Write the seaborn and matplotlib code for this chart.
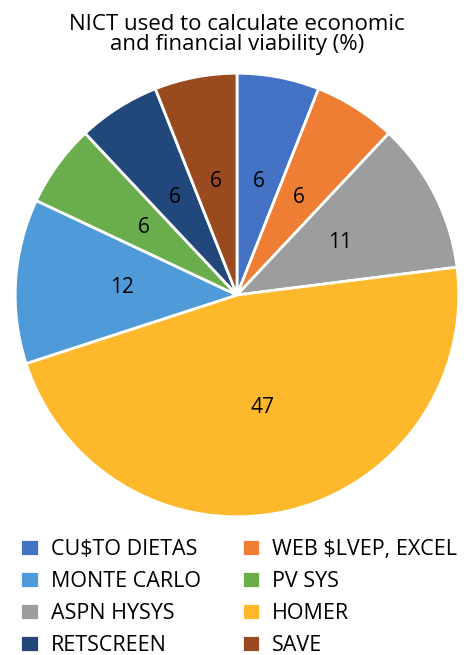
import matplotlib
matplotlib.use("Agg")
import matplotlib.pyplot as plt
import seaborn as sns

tools = ["CU$TO DIETAS", "WEB $LVEP, EXCEL", "ASPN HYSYS", "HOMER",
         "MONTE CARLO", "PV SYS", "RETSCREEN", "SAVE"]
share = [6, 6, 11, 47, 12, 6, 6, 6]
colors = ["#4472C4", "#EE7E33", "#9B9D9E", "#FDB92B",
          "#4F9BD9", "#6AAD4C", "#22477A", "#9A4A1F"]
legend_order = ["CU$TO DIETAS", "MONTE CARLO", "ASPN HYSYS", "RETSCREEN",
                "WEB $LVEP, EXCEL", "PV SYS", "HOMER", "SAVE"]

sns.set_theme(style="white")
plt.rcParams['font.family'] = ['Open Sans', 'DejaVu Sans']
plt.rcParams['text.color'] = 'black'

fig = plt.figure(figsize=(4.74, 6.55), dpi=100)
ax = fig.add_axes([(237 - 224) / 474, (360 - 224) / 655, 448 / 474, 448 / 655])

wedges, texts, autotexts = ax.pie(
    share, colors=colors, startangle=90, counterclock=False,
    autopct=lambda p: f"{p:.0f}", pctdistance=0.52,
    wedgeprops=dict(edgecolor="white", linewidth=2),
    textprops=dict(fontsize=15, color="black"))
ax.set_xlim(-1.01, 1.01)
ax.set_ylim(-1.01, 1.01)
ax.set_aspect("equal")

fig.text(0.5, 0.978, "NICT used to calculate economic\nand financial viability (%)",
         ha="center", va="top", fontsize=16, linespacing=0.92)

handle_map = dict(zip(tools, wedges))
fig.legend([handle_map[t] for t in legend_order], legend_order,
           ncol=2, loc="upper left", bbox_to_anchor=(0.025, 0.19),
           frameon=False, fontsize=15.5, handlelength=0.85, handleheight=0.85,
           handletextpad=0.55, columnspacing=1.9, labelspacing=0.5,
           borderaxespad=0)

fig.savefig("out.png", dpi=100)
